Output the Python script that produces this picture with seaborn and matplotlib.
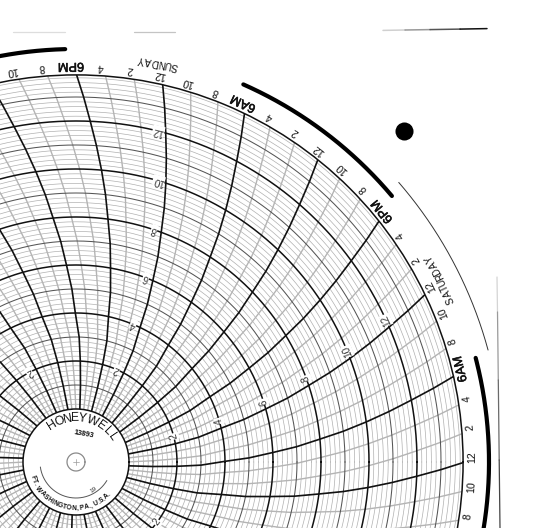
"""
Circular 7-day chart paper (Honeywell 13893), lower left centre, cropped.
"""

import matplotlib

matplotlib.use("Agg")

import matplotlib.patheffects as pe
import matplotlib.pyplot as plt
import numpy as np
import pandas as pd
import seaborn as sns
from matplotlib.font_manager import FontProperties
from matplotlib.textpath import TextPath

# Chart scale
RING_MAX = 13.92
HUB_PX = 53.0
PX_PER_UNIT = 24.0
CENTER_PX = (76.0, 462.0)
SPOKE_STEP = 360.0 / 84

ring_steps = [0, 1, 2, 3, 4, 5, 6, 7, 8, 9, 10, 11, 12, 13, 14]
bend_deg = [17.0, 16.2, 15.3, 14.3, 12.6, 11.5, 10.1, 8.9, 7.5, 6.3, 5.0, 3.7, 2.4, 1.2, 0.0]
major_rings = [0, 2, 4, 6, 8, 10, 12]
mid_rings = [1, 3, 5, 7, 9, 11, 13]
ring_labels = ["2", "4", "6", "8", "10", "12"]
ring_label_values = [2, 4, 6, 8, 10, 12]
ring_label_spokes = [-6, 6, 18, 30]

# Outer time scale, repeats every 12 spokes (one day); only these spokes are in frame
time_labels = ["12", "2", "4", "6AM", "8", "10", "12", "2", "4", "6PM", "8", "10"]
visible_spokes = list(range(-2, 24))
day_labels = ["SATURDAY", "SUNDAY"]
day_spans = [(23.0, 30.3), (75.5, 81.4)]

# Hub lettering
maker_name = "HONEYWELL"
maker_deg = [122.2, 111.2, 100.8, 91.3, 81.3, 68.5, 54.7, 44.4, 34.2]

# Heavy arcs outside the scale (degrees)
heavy_arcs = [(-11.4, 14.6), (40.1, 66.1), (91.5, 117.5)]
thin_arc = (15.2, 40.9)

FONT = "Liberation Sans"
INK = "#111111"


def ring_of(px):
    """Pixel radius from the chart centre to ring units."""
    return (px - HUB_PX) / PX_PER_UNIT


def arc(ax, start, end, px, **kwargs):
    theta = np.radians(np.linspace(start, end, 200))
    ax.plot(theta, np.full(theta.shape, ring_of(px)), clip_on=False, **kwargs)


def curved_text(ax, text, start, end, px, size, flip, weight="normal"):
    """Lay text along a circle, one glyph at a time, start/end in degrees."""
    prop = FontProperties(family=FONT, size=size, weight=weight)
    widths = []
    for ch in text:
        if ch == " ":
            widths.append(size * 0.3)
        else:
            widths.append(TextPath((0, 0), ch, prop=prop).get_extents().width + size * 0.12)
    edges = np.cumsum([0] + widths)
    mids = (edges[:-1] + edges[1:]) / 2 / edges[-1]
    for ch, frac in zip(text, mids):
        deg = start + (end - start) * frac
        rot = deg + 90 if flip else deg - 90
        ax.text(
            np.radians(deg), ring_of(px), ch, rotation=rot, rotation_mode="anchor",
            ha="center", va="center", fontproperties=prop, color=INK,
        )


sns.set_style("white")
plt.rcParams["font.family"] = [FONT, "DejaVu Sans"]

W, H = 542, 528
fig = plt.figure(figsize=(W / 100, H / 100), dpi=100, facecolor="white")

outer_px = HUB_PX + RING_MAX * PX_PER_UNIT
ax = fig.add_axes(
    [
        (CENTER_PX[0] - outer_px) / W,
        (H - CENTER_PX[1] - outer_px) / H,
        2 * outer_px / W,
        2 * outer_px / H,
    ],
    projection="polar",
)

# Time lines
rows = []
for k in range(84):
    for v, b in zip(ring_steps, bend_deg):
        rows.append({"spoke": k, "heavy": k % 3 == 0, "ring": v, "theta": np.radians(k * SPOKE_STEP - b)})
spokes = pd.DataFrame(rows)

# Rings
full_circle = np.radians(np.linspace(0, 360, 721))
for v in np.round(np.arange(0, 14, 0.2), 1):
    if v not in major_rings and v not in mid_rings:
        ax.plot(full_circle, np.full(full_circle.shape, v), color="#b0b0b0", lw=0.5, zorder=1)
for v in mid_rings:
    ax.plot(full_circle, np.full(full_circle.shape, v), color="#555555", lw=0.75, zorder=2)
for v in major_rings[1:]:
    ax.plot(full_circle, np.full(full_circle.shape, v), color=INK, lw=1.1, zorder=4)

sns.lineplot(
    data=spokes[~spokes["heavy"]], x="theta", y="ring", units="spoke", estimator=None, sort=False,
    color="#b4b4b4", lw=1.0, zorder=1.5, ax=ax, legend=False,
)
sns.lineplot(
    data=spokes[spokes["heavy"]], x="theta", y="ring", units="spoke", estimator=None, sort=False,
    color=INK, lw=1.2, zorder=4, ax=ax, legend=False,
)

ax.set_rorigin(-HUB_PX / PX_PER_UNIT)
ax.set_rlim(0, RING_MAX)
ax.set_xticks([])
ax.set_yticks([])
ax.set_xlabel("")
ax.set_ylabel("")
ax.grid(False)
for spine in ax.spines.values():
    spine.set_color(INK)
    spine.set_linewidth(1.1)

# Outer time labels
for k in visible_spokes:
    label = time_labels[k % 12]
    deg = k * SPOKE_STEP + 0.7
    big = label in ("6AM", "6PM")
    t = ax.text(
        np.radians(deg), ring_of(396), label, rotation=deg + 90, rotation_mode="anchor",
        ha="center", va="center", fontsize=9.2 if big else 7.6, color=INK,
    )
    if big:
        t.set_path_effects([pe.withStroke(linewidth=0.4, foreground=INK)])

# Ring labels, sitting just off the midnight lines; skip the ones outside the crop
for k in ring_label_spokes:
    for text, v in zip(ring_labels, ring_label_values):
        b = bend_deg[ring_steps.index(v)]
        px = HUB_PX + v * PX_PER_UNIT
        deg = k * SPOKE_STEP - b + np.degrees(7.5 / px)
        x_px = CENTER_PX[0] + px * np.cos(np.radians(deg))
        y_px = CENTER_PX[1] - px * np.sin(np.radians(deg))
        if not (6 < x_px < W and y_px < H - 4):
            continue
        ax.text(
            np.radians(deg), v, text, rotation=deg + 90, rotation_mode="anchor", ha="center", va="center",
            fontsize=7.2, color="#333333", zorder=6,
            bbox=dict(facecolor="white", edgecolor="none", pad=0.3),
        )

# Day names
for name, span in zip(day_labels, day_spans):
    curved_text(ax, name, span[0], span[1], 408, 7.2, True)

# Marks round the outside
for start, end in heavy_arcs:
    arc(ax, start, end, 413, color="black", lw=3.0, solid_capstyle="round")
arc(ax, thin_arc[0], thin_arc[1], 427, color="#333333", lw=0.7)
ax.plot(
    [np.arctan2(331, 328)], [ring_of(np.hypot(328, 331))], "o", color="black", ms=13, mew=0, clip_on=False,
)

# Hub
for ch, deg in zip(maker_name, maker_deg):
    ax.text(
        np.radians(deg), ring_of(44), ch, rotation=deg - 90, rotation_mode="anchor",
        ha="center", va="center", fontsize=8.8, color=INK,
    )
curved_text(ax, "FT. WASHINGTON, PA., U.S.A.", 197, 317, 46.5, 4.8, True, weight="bold")
ax.text(
    np.radians(74), ring_of(29), "13893", rotation=-10, ha="center", va="center",
    fontsize=5.2, fontweight="bold", color=INK,
)
ax.text(
    np.radians(303), ring_of(33), "19", rotation=35, ha="center", va="center", fontsize=4.6, color="#333333",
)
arc(ax, 188, 329, 36, color="#555555", lw=0.7)
arc(ax, 0, 360, 9, color="#8a8a8a", lw=0.9)

# Paper edges, scanned faintly: overlay in pixel space
paper = fig.add_axes([0, 0, 1, 1], facecolor="none")
paper.set_xlim(0, W)
paper.set_ylim(H, 0)
paper.axis("off")
edge_top_x = [383, 405, 430, 460, 487]
edge_top_y = [30.4, 30.0, 29.6, 29.1, 28.6]
edge_top_shade = ["#d0d0d0", "#9a9a9a", "#555555", "#111111"]
for i, shade in enumerate(edge_top_shade):
    paper.plot(edge_top_x[i:i + 2], edge_top_y[i:i + 2], color=shade, lw=1.1)
edge_side_x = [497, 497.5, 498.3, 499.2, 500]
edge_side_y = [277, 312, 380, 460, 528]
edge_side_shade = ["#d4d4d4", "#9a9a9a", "#6a6a6a", "#444444"]
for i, shade in enumerate(edge_side_shade):
    paper.plot(edge_side_x[i:i + 2], edge_side_y[i:i + 2], color=shade, lw=0.9)
paper.plot([13, 65], [32, 32], color="#dddddd", lw=0.9)
paper.plot([134, 175], [32, 32], color="#c4c4c4", lw=0.9)
# centre cross
paper.plot([73, 79], [CENTER_PX[1]] * 2, color="#9a9a9a", lw=0.5)
paper.plot([CENTER_PX[0]] * 2, [459, 465], color="#9a9a9a", lw=0.5)

fig.savefig("out.png", dpi=100)
plt.close(fig)
